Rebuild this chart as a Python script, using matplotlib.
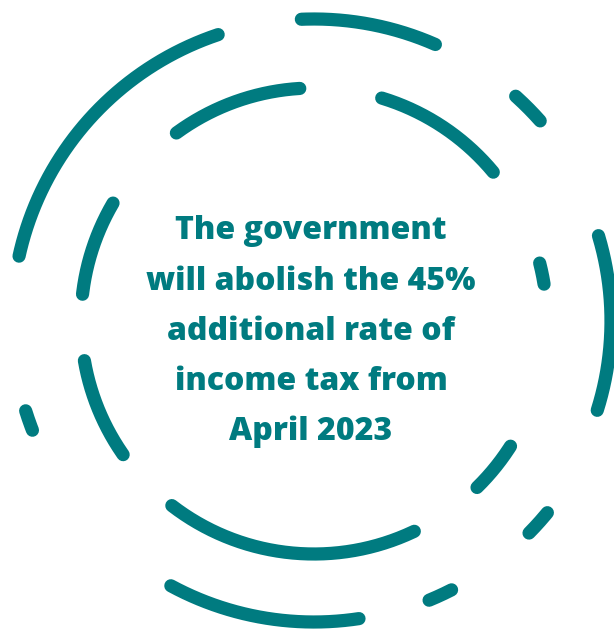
import numpy as np
import matplotlib
matplotlib.use("Agg")
import matplotlib.pyplot as plt

# Circle centre (pixel space)
cx, cy = 314, 321

# Arc segments: (start angle, end angle, radius), angles counter-clockwise from east
outer_arcs = [(108.5, 167.6, 302), (66.3, 92.4, 302), (41.5, 48.1, 302),
              (-17.5, 16.7, 297), (-44.6, -39.4, 302), (-67.6, -62.9, 302),
              (-118.4, -81.4, 301), (-162.7, -158.8, 302)]
inner_arcs = [(93.5, 126.2, 233), (39.7, 73.1, 233), (9.1, 14.4, 233),
              (-45.6, -32.5, 233), (-127.6, -64.5, 233), (-170.2, -145.0, 233),
              (149.6, 173.4, 233)]

lines = ["The government", "will abolish the 45%", "additional rate of",
         "income tax from", "April 2023"]
baselines = [239, 290, 340, 390, 440]

teal = "#007b80"

fig = plt.figure(figsize=(6.14, 6.29), dpi=100)
ax = fig.add_axes([0, 0, 1, 1])
ax.set_xlim(0, 614)
ax.set_ylim(629, 0)
ax.axis("off")

def draw_arc(a0, a1, r):
    t = np.radians(np.linspace(a0, a1, 200))
    ax.plot(cx + r*np.cos(t), cy - r*np.sin(t), color=teal, lw=9.5,
            solid_capstyle="round")

for a in outer_arcs + inner_arcs:
    draw_arc(*a)

for txt, y in zip(lines, baselines):
    ax.text(311, y, txt, ha="center", va="baseline", color=teal,
            fontsize=23, fontweight="heavy", family="Open Sans")

fig.savefig("out.png", dpi=100)
